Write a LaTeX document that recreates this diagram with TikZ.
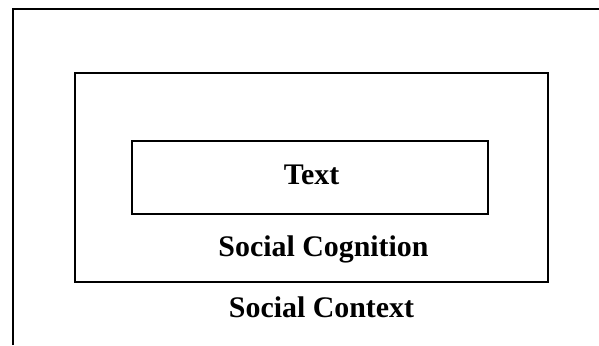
\documentclass[tikz,border=0pt]{standalone}
\usepackage{fontspec}
\setmainfont{Liberation Serif}
\usetikzlibrary{positioning}

\tikzset{
  frame/.style={draw, line width=1.6bp, inner sep=0pt},
  label/.style={font=\fontsize{30}{36}\selectfont\bfseries, anchor=base, inner sep=0pt}
}

\begin{document}
\begin{tikzpicture}[x=1bp, y=-1bp]
\useasboundingbox (0,0) rectangle (599,345);

% outer frame (cut by the page on the right and at the bottom)
\coordinate (ctx sw) at (13,345);
\coordinate (ctx nw) at (13,9);
\coordinate (ctx ne) at (599,9);
\draw[line width=1.6bp] (ctx sw) -- (ctx nw) -- (ctx ne);

% boxes
\node[frame, minimum width=473bp, minimum height=209bp] (cognition) at (311.5,177.5) {};
\node[frame, minimum width=356bp, minimum height=73bp] (text) at (310,177.5) {};

% labels
\node[label] (text label) at (311.5,184) {Text};
\node[label] (cognition label) at (323.5,256) {Social Cognition};
\node[label] (context label) at (321.5,317) {Social Context};
\end{tikzpicture}
\end{document}
